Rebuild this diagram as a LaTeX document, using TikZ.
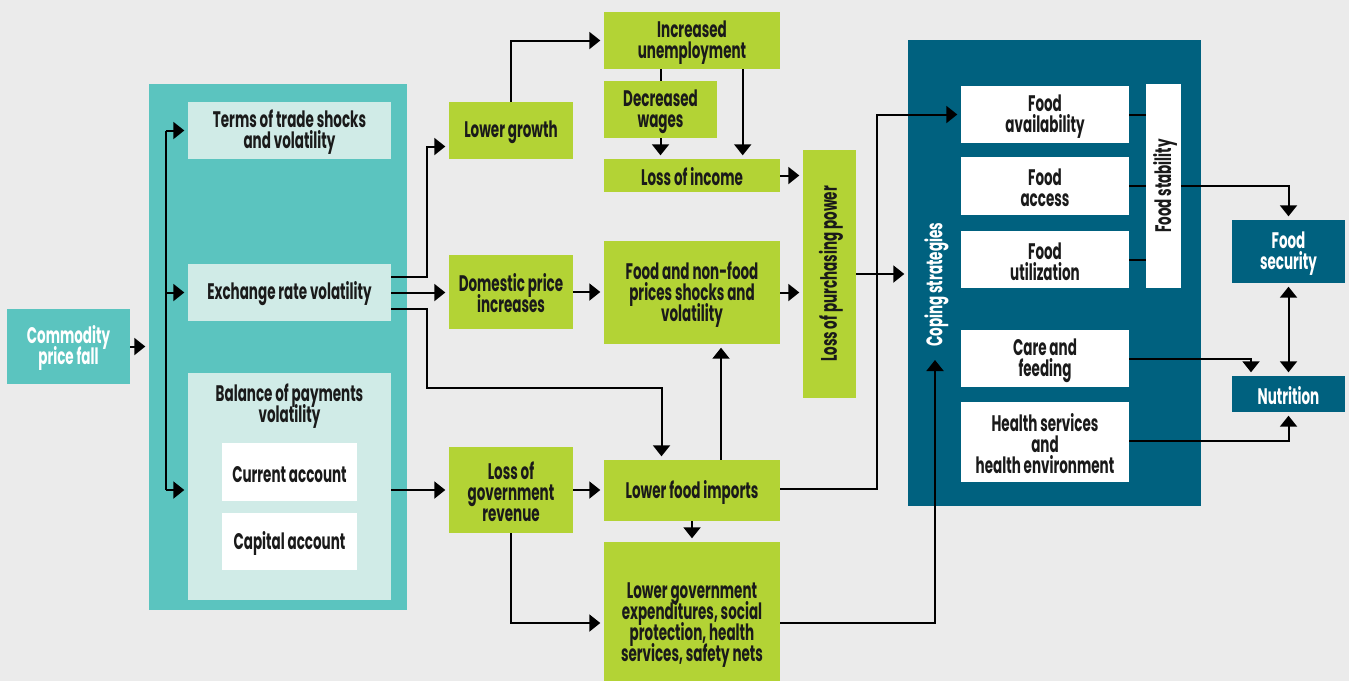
\documentclass[tikz,border=0pt]{standalone}
\usepackage{fontspec}
\setmainfont[FakeStretch=0.6]{Poppins}
\usetikzlibrary{arrows.meta,calc}
\definecolor{bgc}{HTML}{EBEBEB}
\definecolor{teal}{HTML}{5BC4BF}
\definecolor{lteal}{HTML}{D0EBE7}
\definecolor{grn}{HTML}{B3D335}
\definecolor{navy}{HTML}{00617F}
\definecolor{txt}{HTML}{1A1A1A}
\lineskiplimit=-100pt
\newcommand\diagfont{\fontsize{22.5}{21}\selectfont\bfseries\lineskiplimit=-100pt\relax}
\newcommand\ts{\rule{0pt}{21pt}}
\begin{document}
\begin{tikzpicture}[x=1pt,y=-1pt,
  font=\diagfont,
  box/.style={draw=none, inner sep=0pt, align=center, text=txt},
  gbox/.style={box, fill=grn},
  tbox/.style={box, fill=lteal},
  wbox/.style={box, fill=white},
  nbox/.style={box, fill=navy, text=white},
  arr/.style={line width=2pt, draw=black, -{Triangle[length=11pt,width=17pt]}, shorten >=3.5pt},
  ln/.style={line width=2pt, draw=black},
  arrtwo/.style={line width=2pt, draw=black, {Triangle[length=11pt,width=17pt]}-{Triangle[length=11pt,width=17pt]}, shorten >=3.5pt, shorten <=3.5pt}]
\useasboundingbox (0,0) rectangle (1349,681);
\fill[bgc] (0,0) rectangle (1349,681);

% left column
\node[box, fill=teal, text=white, minimum width=123pt, minimum height=75pt] (commodity) at (68.5,346.5) {\ts Commodity\\price fall};
\node[box, fill=teal, minimum width=258pt, minimum height=526pt] (big) at (278,347) {};
\node[tbox, minimum width=203pt, minimum height=57pt] (terms) at (289.5,130.5) {\ts Terms of trade shocks\\and volatility};
\node[tbox, minimum width=203pt, minimum height=57pt] (exch) at (289.5,292.5) {\ts Exchange rate volatility};
\node[tbox, minimum width=203pt, minimum height=227pt] (bal) at (289.5,486.5) {};
\node[box, anchor=north] (baltxt) at (289.5,380.5) {\ts Balance of payments\\volatility};
\node[wbox, minimum width=135pt, minimum height=58pt] (cur) at (289.5,472) {\ts Current account};
\node[wbox, minimum width=135pt, minimum height=57pt] (cap) at (289.5,541.5) {\ts Capital account};

% middle
\node[gbox, minimum width=124pt, minimum height=57pt] (lowgrowth) at (511,130.5) {\ts Lower growth};
\node[gbox, minimum width=124pt, minimum height=74pt] (domestic) at (511,292) {\ts Domestic price\\increases};
\node[gbox, minimum width=124pt, minimum height=86pt] (lossgov) at (511,490) {\ts Loss of\\government\\revenue};
\node[gbox, minimum width=176pt, minimum height=57pt] (unemp) at (692,40.5) {\ts Increased\\unemployment};
\node[gbox, minimum width=113pt, minimum height=57pt] (wages) at (660.5,109.5) {\ts Decreased\\wages};
\node[gbox, minimum width=176pt, minimum height=33pt] (income) at (692,175.5) {\ts Loss of income};
\node[gbox, minimum width=176pt, minimum height=103pt] (foodprice) at (692,292.5) {\ts Food and non-food\\prices shocks and\\volatility};
\node[gbox, minimum width=176pt, minimum height=61pt] (imports) at (692,490.5) {\ts Lower food imports};
\node[gbox, minimum width=176pt, minimum height=139pt] (govexp) at (692,611.5) {};
\node[box] (govexptxt) at (692,622) {\ts Lower government\\expenditures, social\\protection, health\\services, safety nets};
\node[gbox, minimum width=53pt, minimum height=248pt] (lopp) at (829.5,274) {};
\node[box, rotate=90] (lopptxt) at (lopp.center) {\ts Loss of purchasing power};

% right
\node[nbox, minimum width=293pt, minimum height=466pt] (coping) at (1054.5,273) {};
\node[box, text=white, rotate=90, anchor=west] (copingtxt) at (935,347) {\ts Coping strategies};
\node[wbox, minimum width=168pt, minimum height=57pt] (avail) at (1045,114.5) {\ts Food\\availability};
\node[wbox, minimum width=168pt, minimum height=58pt] (access) at (1045,186) {\ts Food\\access};
\node[wbox, minimum width=168pt, minimum height=57pt] (util) at (1045,259.5) {\ts Food\\utilization};
\node[wbox, minimum width=35pt, minimum height=204pt] (stab) at (1163.5,186) {};
\node[box, rotate=90] (stabtxt) at (stab.center) {\ts Food stability};
\node[wbox, minimum width=168pt, minimum height=57pt] (care) at (1045,358.5) {\ts Care and\\feeding};
\node[wbox, minimum width=168pt, minimum height=80pt] (health) at (1045,442) {\ts Health services\\and\\health environment};
\node[nbox, minimum width=113pt, minimum height=63pt] (security) at (1288.5,251.5) {\ts Food\\security};
\node[nbox, minimum width=113pt, minimum height=36pt] (nutrition) at (1288.5,394) {\ts Nutrition};

% connectors, left
\draw[arr] (commodity.east) -- (commodity.east -| big.west);
\coordinate (vx) at (166,0);
\draw[ln] (terms.west -| vx) -- (lossgov.west -| vx);
\draw[arr] (terms.west -| vx) -- (terms.west);
\draw[arr] (exch.west -| vx) -- (exch.west);
\draw[arr] (lossgov.west -| vx) -- (lossgov.west -| bal.west);

\draw[arr] ([yshift=16pt]exch.east) -- ++(36pt,0) |- ([yshift=-16pt]lowgrowth.west);
\draw[arr] (exch.east) -- (exch.east -| domestic.west);
\draw[arr] ([yshift=-16.5pt]exch.east) -- ++(36pt,0) -- ++(0,-79pt) -| ([xshift=-30.5pt]imports.north);
\draw[arr] (lossgov.west -| bal.east) -- (lossgov.west);

% middle connectors
\draw[arr] (lowgrowth.north) |- (unemp.west);
\draw[ln] (unemp.south -| wages.north) -- (wages.north);
\draw[arr] (wages.south) -- (wages.south |- income.north);
\draw[arr] ([xshift=50.7pt]unemp.south) -- ([xshift=50.7pt]income.north);
\draw[arr] (income.east) -- (income.east -| lopp.west);
\draw[arr] (domestic.east) -- (domestic.east -| foodprice.west);
\draw[arr] (foodprice.east) -- (foodprice.east -| lopp.west);
\draw[arr] ([xshift=29pt]imports.north) -- ([xshift=29pt]foodprice.south);
\draw[arr] (lossgov.east) -- (lossgov.east -| imports.west);
\draw[arr] (lossgov.south) |- ([yshift=-11.5pt]govexp.west);
\draw[arr] (imports.south) -- (govexp.north);

% to the coping box
\draw[arr] ([yshift=2pt]imports.east) -- ++(97pt,0) |- (avail.west);
\draw[arr] (lopp.east) -- (lopp.east -| coping.west);
\draw[arr, shorten >=13pt] ([yshift=-11.5pt]govexp.east) -| (copingtxt.west);

% right connectors
\draw[ln] (avail.east) -- (avail.east -| stab.west);
\draw[ln] (access.east) -- (access.east -| stab.west);
\draw[ln] (util.east) -- (util.east -| stab.west);
\draw[arr] (stab.east) -| (security.north);
\draw[arrtwo] (security.south) -- (nutrition.north);
\draw[arr] (care.east) -| ([xshift=-37.5pt]nutrition.north);
\draw[arr] ([yshift=1.3pt]health.east) -| (nutrition.south);
\end{tikzpicture}
\end{document}
